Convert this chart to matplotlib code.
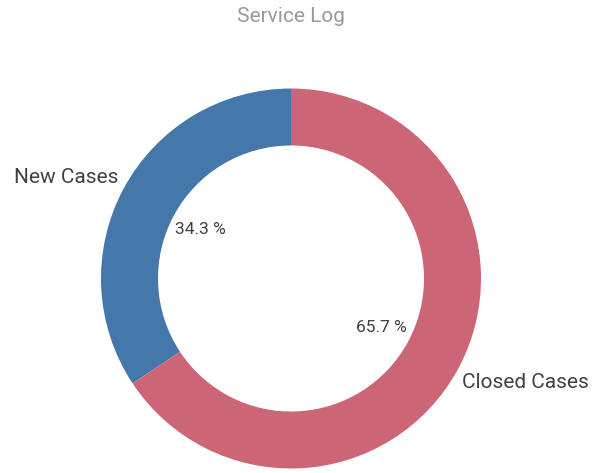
import matplotlib
matplotlib.use("Agg")
import matplotlib.pyplot as plt

# data
categories = ["New Cases", "Closed Cases"]
values = [34.3, 65.7]
colors = ["#4477aa", "#cc6677"]

plt.rcParams["font.family"] = ["Roboto", "DejaVu Sans"]

W, H = 593, 473
fig = plt.figure(figsize=(W / 100, H / 100), dpi=100)

# center of the ring in pixels and its radius
cx, cy, r = 291, 278.5, 190
lim = 1.2
size = 2 * lim * r
ax = fig.add_axes([(cx - size / 2) / W, (H - cy - size / 2) / H, size / W, size / H])

wedges, texts, autotexts = ax.pie(
    values,
    labels=categories,
    colors=colors,
    startangle=90,
    counterclock=True,
    autopct=lambda p: f"{p:.1f} %",
    pctdistance=0.54,
    labeldistance=1.05,
    wedgeprops=dict(width=0.3, edgecolor="none"),
    textprops=dict(color="#404040"),
)
# nudge outer labels to where the reference puts them
texts[0].set_position((-0.91, 0.53))
texts[1].set_position((0.9, -0.545))
for t in texts:
    t.set_fontsize(15)
for t in autotexts:
    t.set_fontsize(12.5)

ax.set_xlim(-lim, lim)
ax.set_ylim(-lim, lim)
ax.set_aspect("equal")
ax.axis("off")

fig.text(cx / W, 1 - 17 / H, "Service Log", ha="center", va="center",
         fontsize=15, color="#999999")

fig.savefig("out.png", dpi=100)
